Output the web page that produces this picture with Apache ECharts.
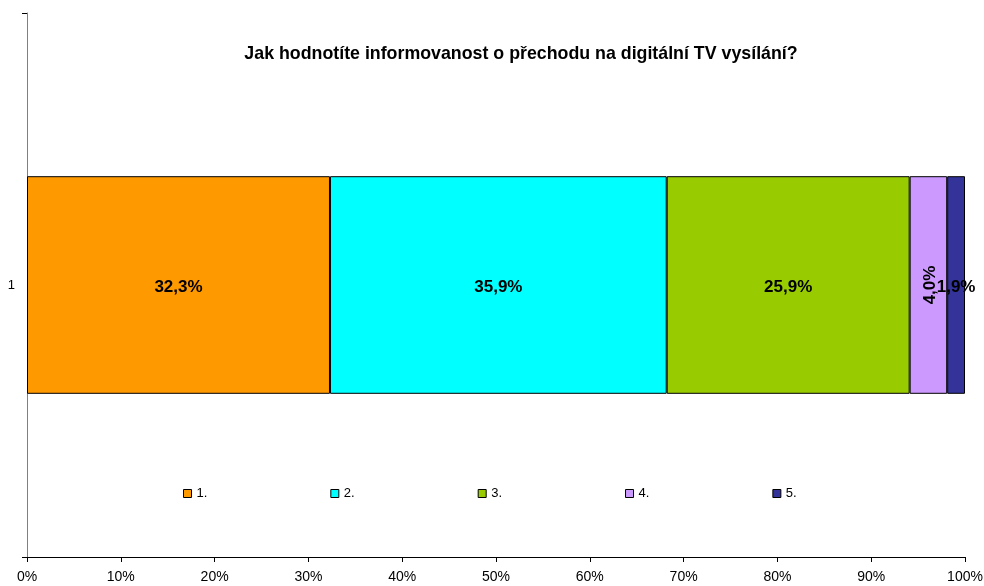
<!DOCTYPE html>
<html>
<head>
<meta charset="utf-8">
<script src="https://cdn.jsdelivr.net/npm/echarts@6/dist/echarts.min.js"></script>
<style>
  html, body { margin: 0; padding: 0; background: #fff; }
  #chart { width: 984px; height: 586px; }
</style>
</head>
<body>
<div id="chart"></div>
<script>
// data
const categories = ['1'];
const seriesNames = ['1.', '2.', '3.', '4.', '5.'];
const values = [32.3, 35.9, 25.9, 4.0, 1.9];
const colors = ['#FF9900', '#00FFFF', '#99CC00', '#CC99FF', '#333399'];
const xTicks = [0, 10, 20, 30, 40, 50, 60, 70, 80, 90, 100];

const FONT = 'Liberation Sans, Arial, sans-serif';

const fmt = v => v.toFixed(1).replace('.', ',') + '%';

const series = seriesNames.map((name, i) => ({
    name: name,
    type: 'bar',
    stack: 'total',
    barWidth: '40%',
    data: [values[i]],
    itemStyle: {
        color: colors[i],
        borderColor: '#000',
        borderWidth: 1
    },
    label: {
        show: true,
        position: 'inside',
        rotate: i === 3 ? 90 : 0,
        offset: [0, 2],
        color: '#000',
        fontFamily: FONT,
        fontWeight: 'bold',
        fontSize: 17,
        formatter: p => fmt(p.value)
    }
}));

const chart = echarts.init(document.getElementById('chart'));
chart.setOption({
    animation: false,
    title: {
        text: 'Jak hodnotíte informovanost o přechodu na digitální TV vysílání?',
        left: 516,
        textAlign: 'center',
        top: 40,
        textStyle: {
            fontFamily: FONT,
            fontWeight: 'bold',
            fontSize: 17.8,
            color: '#000'
        }
    },
    legend: {
        data: seriesNames,
        left: 178,
        top: 482,
        itemWidth: 8,
        itemHeight: 8,
        itemGap: 123,
        icon: 'rect',
        textStyle: {
            fontFamily: FONT,
            fontSize: 13,
            color: '#000'
        },
        itemStyle: {
            borderColor: '#000',
            borderWidth: 1
        }
    },
    grid: {
        left: 27,
        right: 19,
        top: 13,
        bottom: 29,
        containLabel: false,
        outerBoundsMode: 'none'
    },
    xAxis: {
        type: 'value',
        min: xTicks[0],
        max: xTicks[xTicks.length - 1],
        interval: 10,
        axisLine: { show: true, lineStyle: { color: '#000', width: 1 } },
        axisTick: { show: true, inside: false, length: 5, lineStyle: { color: '#000' } },
        splitLine: { show: false },
        axisLabel: {
            formatter: '{value}%',
            fontFamily: FONT,
            fontSize: 14,
            color: '#000',
            margin: 13
        }
    },
    yAxis: {
        type: 'category',
        data: categories,
        axisLine: { show: true, lineStyle: { color: '#808080', width: 1 } },
        axisTick: { show: true, inside: false, length: 5, lineStyle: { color: '#000' } },
        axisLabel: {
            fontFamily: FONT,
            fontSize: 13,
            color: '#000',
            margin: 12
        }
    },
    series: series
});
</script>
</body>
</html>
